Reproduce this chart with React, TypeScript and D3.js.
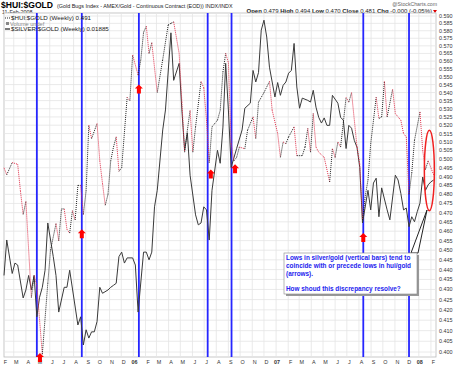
import React from "react";
import * as d3 from "d3";

// weekly bars, [week index from START, value]
const hui: [number, number][] = [
  [0, 0.495], [1, 0.491], [3, 0.498], [5, 0.497], [6, 0.482], [7, 0.469], [8, 0.476], [10, 0.426],
  [11, 0.437], [12, 0.432], [14, 0.399], [16, 0.433], [17, 0.45], [19, 0.464], [20, 0.455], [21, 0.472],
  [22, 0.472], [23, 0.461], [24, 0.459], [25, 0.471], [26, 0.466], [27, 0.485], [28, 0.485], [29, 0.469],
  [30, 0.482], [31, 0.52], [32, 0.512], [34, 0.521], [35, 0.499], [36, 0.486], [37, 0.474], [38, 0.48],
  [39, 0.499], [40, 0.507], [41, 0.513], [42, 0.493], [43, 0.495], [45, 0.537], [46, 0.535], [47, 0.564],
  [49, 0.551], [50, 0.561], [51, 0.579], [52, 0.583], [53, 0.565], [54, 0.572], [56, 0.54], [58, 0.561],
  [60, 0.584], [61, 0.585], [62, 0.586], [64, 0.565], [65, 0.534], [66, 0.504], [67, 0.517], [68, 0.529],
  [69, 0.504], [70, 0.519], [72, 0.547], [73, 0.543], [74, 0.523], [75, 0.498], [76, 0.519], [78, 0.523],
  [79, 0.529], [80, 0.553], [81, 0.565], [82, 0.559], [83, 0.509], [84, 0.499], [85, 0.501], [86, 0.507],
  [88, 0.506], [89, 0.517], [91, 0.525], [92, 0.512], [93, 0.534], [95, 0.54], [97, 0.547], [98, 0.529],
  [100, 0.515], [101, 0.501], [102, 0.51], [103, 0.509], [104, 0.513], [106, 0.519], [107, 0.502], [109, 0.502],
  [110, 0.507], [111, 0.518], [112, 0.504], [113, 0.527], [114, 0.507], [115, 0.504], [117, 0.501], [119, 0.487],
  [120, 0.506], [121, 0.501], [122, 0.51], [123, 0.507], [125, 0.537], [126, 0.534], [127, 0.54], [129, 0.507],
  [130, 0.497], [131, 0.466], [132, 0.479], [133, 0.488], [134, 0.509], [136, 0.537], [137, 0.524], [138, 0.525],
  [139, 0.547], [140, 0.525], [142, 0.542], [143, 0.527], [145, 0.523], [146, 0.515], [147, 0.513], [148, 0.48],
  [149, 0.492], [150, 0.511], [152, 0.528], [153, 0.505], [154, 0.494], [155, 0.499], [157, 0.491],
];

const silver: [number, number][] = [
  [0, 0.01733], [1, 0.01788], [3, 0.01736], [4, 0.01752], [5, 0.01749], [7, 0.01699], [8, 0.01711], [9, 0.01733],
  [10, 0.01711], [11, 0.01733], [12, 0.01671], [13, 0.017], [14, 0.01715], [15, 0.01741], [16, 0.01815], [18, 0.01762],
  [19, 0.01733], [20, 0.01678], [22, 0.01715], [23, 0.01715], [24, 0.01741], [27, 0.01659], [28, 0.01671], [29, 0.0163],
  [30, 0.01652], [31, 0.0164], [32, 0.01649], [33, 0.01649], [34, 0.01664], [35, 0.01715], [36, 0.01706], [38, 0.01711],
  [39, 0.01715], [40, 0.01718], [41, 0.01721], [42, 0.01762], [43, 0.01769], [44, 0.01752], [45, 0.0176], [47, 0.0176],
  [48, 0.01749], [49, 0.01678], [51, 0.01769], [52, 0.01769], [53, 0.01757], [54, 0.01769], [55, 0.01841], [56, 0.01868],
  [58, 0.0197], [59, 0.02005], [61, 0.02146], [62, 0.02058], [64, 0.02089], [65, 0.02005], [66, 0.01935], [67, 0.01965],
  [68, 0.01893], [70, 0.01828], [71, 0.01812], [72, 0.01815], [73, 0.01841], [74, 0.01836], [75, 0.01788], [76, 0.01868],
  [78, 0.01935], [79, 0.01913], [80, 0.01975], [81, 0.02089], [82, 0.02005], [83, 0.01906], [85, 0.01938], [87, 0.0197],
  [88, 0.02008], [90, 0.02017], [91, 0.02076], [92, 0.02055], [93, 0.02072], [94, 0.02151], [95, 0.0217], [96, 0.02138],
  [97, 0.02082], [99, 0.02028], [100, 0.02054], [101, 0.02031], [102, 0.02049], [103, 0.02055], [104, 0.02071], [105, 0.02076],
  [106, 0.02126], [107, 0.02046], [108, 0.02008], [109, 0.02026], [111, 0.02022], [112, 0.02019], [113, 0.0204], [114, 0.0201],
  [115, 0.01992], [116, 0.01982], [117, 0.01991], [118, 0.01978], [119, 0.01978], [120, 0.02031], [122, 0.02017], [123, 0.01992],
  [124, 0.01987], [125, 0.01938], [126, 0.01978], [127, 0.01973], [128, 0.01952], [129, 0.0194], [130, 0.01906], [131, 0.01815],
  [133, 0.01868], [134, 0.01836], [135, 0.0188], [136, 0.01888], [137, 0.01825], [138, 0.01872], [140, 0.01836], [141, 0.0182],
  [143, 0.01893], [144, 0.01885], [145, 0.01863], [146, 0.01836], [147, 0.01839], [148, 0.01809], [149, 0.01825], [150, 0.01817],
  [151, 0.01833], [152, 0.01847], [153, 0.0189], [154, 0.01868], [155, 0.01877], [156, 0.01882], [157, 0.01885],
];

// silver/gold lows (vertical bars)
const barDates = ["2005-04-29", "2005-08-22", "2006-01-15", "2006-07-10", "2006-09-09", "2007-08-12", "2007-12-07"];
// hui/gold lows (arrows): date, value at arrow tip
const arrowDates = ["2005-05-07", "2005-08-22", "2006-01-15", "2006-07-18", "2006-09-18", "2007-08-12"];
const arrowValues = [0.3995, 0.461, 0.545, 0.494, 0.497, 0.459];

const noteLines = [
  "Lows in silver/gold (vertical bars) tend to",
  "coincide with or precede lows in hui/gold",
  "(arrows).",
  "",
  "How shoud this discrepancy resolve?",
];

const quote = [["Open", "0.479"], ["High", "0.494"], ["Low", "0.470"], ["Close", "0.481"], ["Chg", "-0.000 (-0.05%)"]];

const START = new Date(2005, 1, 4);
const END = new Date(2008, 1, 14);
const FONT = "Liberation Sans, Arial, sans-serif";

const W = 460;
const H = 368;
const plot = { left: 4, right: 436, top: 13, bottom: 357 };

const App = () => {
  const x = d3.scaleTime().domain([START, END]).range([plot.left, plot.right]);
  const y = d3.scaleLog().domain([0.4, 0.59]).range([352, 16]);
  const ys = d3.scaleLog().domain([0.0162, 0.02178]).range([352, 16]);
  const wx = (w: number) => x(d3.timeDay.offset(START, w * 7));
  const parse = d3.timeParse("%Y-%m-%d");

  const yTicks = d3.range(0, 39).map((i) => +(0.4 + i * 0.005).toFixed(3));
  const months = d3.timeMonth.range(d3.timeMonth.floor(START), END);

  const silverLine = d3
    .line<[number, number]>()
    .x((d) => wx(d[0]))
    .y((d) => ys(d[1]));

  const ellDate = parse("2008-01-28")!;
  const ellTop = y(0.517);
  const ellBot = y(0.471);

  return (
    <svg width={W} height={H} style={{ position: "absolute", left: 0, top: 0, background: "#fff" }} fontFamily={FONT}>
      {/* header */}
      <text x={1} y={8} fontSize={8.6} fontWeight="bold" fill="#000">$HUI:$GOLD</text>
      <text x={57} y={7.5} fontSize={5.4} fill="#222">
        (Gold Bugs Index - AMEX/Gold - Continuous Contract (EOD)) INDX/INDX
      </text>
      <text x={2} y={14} fontSize={5.4} fill="#222">11-Feb-2008</text>
      <text x={437} y={6} fontSize={5.2} fill="#666" textAnchor="end">@StockCharts.com</text>
      <text x={432} y={13} fontSize={6} fill="#222" textAnchor="end">
        {quote.map(([k, v]) => (
          <React.Fragment key={k}>
            <tspan fontWeight="bold">{k}</tspan>
            <tspan>{" " + v + " "}</tspan>
          </React.Fragment>
        ))}
      </text>
      <path d="M433,10 L437,10 L435,13 Z" fill="#d00" />

      {/* plot area */}
      <rect x={plot.left} y={plot.top} width={plot.right - plot.left} height={plot.bottom - plot.top} fill="#fff" stroke="#bbb" strokeWidth={0.8} />
      {yTicks.map((t) => (
        <line key={"h" + t} x1={plot.left} x2={plot.right} y1={y(t)} y2={y(t)} stroke="#e4e4e4" strokeWidth={0.8} />
      ))}
      {months.filter((m) => m >= START).map((m) => (
        <line key={"v" + m.getTime()} x1={x(m)} x2={x(m)} y1={plot.top} y2={plot.bottom} stroke="#e4e4e4" strokeWidth={0.8} />
      ))}

      {/* y axis labels */}
      {yTicks.map((t) => (
        <text key={"yl" + t} x={439} y={y(t) + 2} fontSize={5.4} fill="#333">
          {t.toFixed(3)}
        </text>
      ))}

      {/* month labels */}
      {months.map((m) => {
        const isYear = m.getMonth() === 0;
        return (
          <text
            key={"ml" + m.getTime()}
            x={x(m) + (isYear ? 1 : 2.5)}
            y={364}
            fontSize={5.4}
            fontWeight={isYear ? "bold" : "normal"}
            textAnchor="middle"
            fill="#333"
          >
            {isYear ? d3.timeFormat("%y")(m) : d3.timeFormat("%b")(m)[0]}
          </text>
        );
      })}

      {/* silver/gold low bars */}
      {barDates.map((d) => {
        const bx = x(parse(d)!);
        return <line key={"b" + d} x1={bx} x2={bx} y1={plot.top} y2={plot.bottom} stroke="#2626ff" strokeWidth={1.8} />;
      })}

      {/* silver:gold solid */}
      <path d={silverLine(silver) || ""} fill="none" stroke="#3a3a3a" strokeWidth={1} />

      {/* hui:gold dotted, black up / red down */}
      {hui.slice(1).map((d, i) => {
        const p = hui[i];
        const up = d[1] >= p[1];
        return (
          <line
            key={"s" + i}
            x1={wx(p[0])}
            y1={y(p[1])}
            x2={wx(d[0])}
            y2={y(d[1])}
            stroke={up ? "#222" : "#e0304a"}
            strokeWidth={1}
            strokeDasharray="1 1"
          />
        );
      })}

      {/* arrows */}
      {arrowDates.map((d, i) => {
        const ax = x(parse(d)!);
        const ay = y(arrowValues[i]);
        return (
          <path
            key={"a" + d}
            transform={`translate(${ax},${ay})`}
            d="M0,0 L4,4 L2,4 L2,9 L-2,9 L-2,4 L-4,4 Z"
            fill="#ff0000"
          />
        );
      })}

      {/* legend */}
      <line x1={5} x2={10} y1={18} y2={18} stroke="#222" strokeDasharray="1 1" />
      <text x={11} y={20} fontSize={6.2} fill="#222">$HUI:$GOLD (Weekly) 0.491</text>
      <rect x={6} y={22} width={3} height={3} fill="#888" />
      <text x={10} y={25.5} fontSize={5.6} fill="#888">Volume undef</text>
      <line x1={5} x2={10} y1={29} y2={29} stroke="#222" strokeWidth={1.2} />
      <text x={11} y={31} fontSize={6.2} fill="#222">$SILVER:$GOLD (Weekly) 0.01885</text>

      {/* ellipse */}
      <ellipse cx={x(ellDate)} cy={(ellTop + ellBot) / 2} rx={5} ry={(ellBot - ellTop) / 2} fill="none" stroke="#f02020" strokeWidth={1.5} />

      {/* callout */}
      <path d="M411,253 L418,253 L427,210 Z" fill="#fff" stroke="#222" strokeWidth={1} />
      <rect x={286} y={255} width={133} height={41} fill="#999" />
      <rect x={284} y={253} width={133} height={41} fill="#fff" stroke="#888" strokeWidth={0.6} />
      {noteLines.map((t, i) => (
        <text key={"n" + i} x={286} y={260 + i * 7.8} fontSize={6.4} fontWeight="bold" fill="#2222ee">
          {t}
        </text>
      ))}
    </svg>
  );
};

export default App;
